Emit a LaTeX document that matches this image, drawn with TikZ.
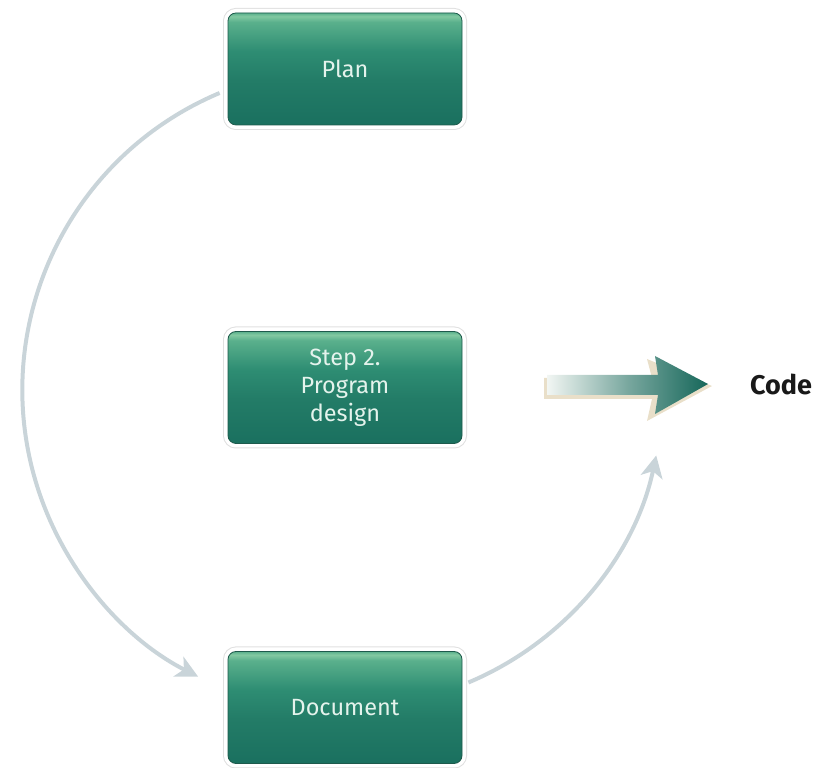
\documentclass[tikz,border=0pt]{standalone}
\usepackage{fontspec}
\setmainfont{Fira Sans}
\usetikzlibrary{arrows.meta,calc}
\definecolor{arcgray}{HTML}{C9D4D9}
\definecolor{boxedge}{HTML}{1E5A4C}
\definecolor{boxtext}{HTML}{E4F3EC}
\definecolor{bA}{HTML}{1A705F}
\definecolor{bB}{HTML}{237C67}
\definecolor{bC}{HTML}{2E8D73}
\definecolor{bD}{HTML}{5AB08C}
\definecolor{bE}{HTML}{82C9A2}
\definecolor{arrdark}{HTML}{16675A}
\definecolor{arrlight}{HTML}{F2F6F3}
\definecolor{beige}{HTML}{E9DFC9}
\pgfdeclareverticalshading{boxshade}{100bp}{color(0bp)=(bA); color(25bp)=(bA); color(45bp)=(bB); color(58bp)=(bC); color(71bp)=(bD); color(73.5bp)=(bE); color(75bp)=(bD); color(100bp)=(bD)}
\tikzset{
  stepbox/.style={rectangle, rounded corners=8pt, minimum width=234pt, minimum height=112pt,
    shading=boxshade, draw=boxedge, line width=0.8pt,
    preaction={draw=black!12, line width=10pt},
    preaction={draw=white, line width=8pt},
    text=boxtext, font=\fontsize{23.5}{28}\selectfont, align=center, inner sep=0pt},
  cyclearc/.style={draw=arcgray, line width=4pt, -{Stealth[length=22pt,width=22pt,inset=6pt]}},
}
\begin{document}
\begin{tikzpicture}[x=1pt,y=1pt]
\useasboundingbox (0,0) rectangle (835,768);
\node[stepbox] (plan) at (345,699) {Plan};
\node[stepbox] (design) at (345,380.5) {Step 2.\\Program\\design};
\node[stepbox] (doc) at (345,60.5) {Document};
\node[font=\fontsize{27}{32}\selectfont\bfseries, text=black!90, anchor=west, inner sep=0pt] (code) at (750,384) {Code};
% cycle arcs
\draw[cyclearc] ($(plan.west)+(-8,-24)$) arc[start angle=112.8, end angle=243, radius=322];
\draw[cyclearc] ($(doc.east)+(6,25)$) arc[start angle=-67.2, end angle=-12, radius=318];
% big arrow
\coordinate (tip) at ($(code.west)+(-42,0)$);
\path[fill=beige, shift={(-3,-4)}]
  (547,373) -- (655,373) -- (650,351) -- ($(tip)+(4,-2)$) -- (650,413) -- (655,394) -- (547,394) -- cycle;
\shade[left color=arrlight, right color=arrdark, middle color=arrdark!55!arrlight]
  (547,373) -- (658,373) -- (655,354) -- (tip) -- (655,412) -- (658,393) -- (547,393) -- cycle;
\end{tikzpicture}
\end{document}
